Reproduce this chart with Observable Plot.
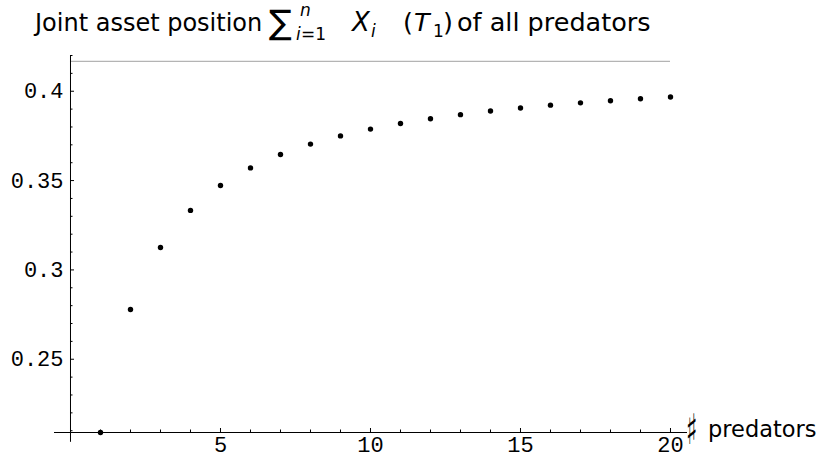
<!DOCTYPE html>
<html>
<head>
<meta charset="utf-8">
<script src="https://cdn.jsdelivr.net/npm/d3@7"></script>
<script src="https://cdn.jsdelivr.net/npm/@observablehq/plot@0.6"></script>
<style>
  html, body { margin: 0; padding: 0; background: white; }
  svg { display: block; }
</style>
</head>
<body>
<div id="chart"></div>
<script>
// ---- data ----
const predators = [1, 2, 3, 4, 5, 6, 7, 8, 9, 10, 11, 12, 13, 14, 15, 16, 17, 18, 19, 20];
const jointAsset = [0.209, 0.2778, 0.3125, 0.3333, 0.3472, 0.3571, 0.3646, 0.3704, 0.3750, 0.3788,
                    0.3819, 0.3846, 0.3869, 0.3889, 0.3906, 0.3922, 0.3935, 0.3947, 0.3958, 0.3968];
const limitValue = 0.4167;
const xMajorTicks = [5, 10, 15, 20];
const xMinorTicks = [1, 2, 3, 4, 6, 7, 8, 9, 11, 12, 13, 14, 16, 17, 18, 19];
const yMajorTicks = [0.25, 0.3, 0.35, 0.4];
const yMajorLabels = ["0.25", "0.3", "0.35", "0.4"];
const yMinorTicks = [0.21, 0.22, 0.23, 0.24, 0.26, 0.27, 0.28, 0.29, 0.31, 0.32, 0.33, 0.34,
                     0.36, 0.37, 0.38, 0.39, 0.41, 0.42];
const xOrigin = 0;
const yOrigin = 0.209;

const data = predators.map((n, i) => ({n, v: jointAsset[i]}));
const monoFont = "Liberation Mono";

const svg = Plot.plot({
  width: 820,
  height: 457,
  marginLeft: 54,
  marginRight: 133,
  marginTop: 55,
  marginBottom: 25,
  style: {background: "white", color: "black"},
  x: {domain: [-0.533, 20.567]},
  y: {domain: [yOrigin, 0.42]},
  marks: [
    // asymptote
    Plot.ruleY([limitValue], {x1: 0, x2: 20, stroke: "#b4b4b4", strokeWidth: 1.3}),
    // axes lines through origin
    Plot.ruleY([yOrigin], {stroke: "black", strokeWidth: 1}),
    Plot.ruleX([xOrigin], {y1: 0.42, y2: yOrigin - 0.0055, stroke: "black", strokeWidth: 1}),
    // x ticks (pointing up)
    Plot.axisX({ticks: xMinorTicks, tickSize: 2.5, dy: -2.5, tickFormat: () => "", label: null}),
    Plot.axisX({ticks: xMajorTicks, tickSize: 4, dy: -4, tickFormat: () => "", label: null}),
    Plot.axisX({ticks: xMajorTicks, tickSize: 0, tickPadding: 4, label: null,
                fontSize: 22, fontFamily: monoFont, tickFormat: d => String(d)}),
    // y ticks (pointing right from the y axis)
    Plot.axisY({ticks: yMinorTicks, tickSize: 2.5, dx: 18.5, tickFormat: () => "", label: null}),
    Plot.axisY({ticks: yMajorTicks, tickSize: 4, dx: 20, tickFormat: () => "", label: null}),
    Plot.axisY({ticks: yMajorTicks, tickSize: 0, tickPadding: 0, dx: 9, label: null,
                fontSize: 22, fontFamily: monoFont,
                tickFormat: d => yMajorLabels[yMajorTicks.indexOf(d)]}),
    // points
    Plot.dot(data, {x: "n", y: "v", r: 2.7, fill: "black", stroke: null})
  ]
});

document.getElementById("chart").appendChild(svg);

// ---- title and axis label as real text ----
const g = d3.select(svg).append("g")
  .attr("font-family", "DejaVu Sans")
  .attr("text-anchor", "start")
  .attr("fill", "black");
function put(txt, x, y, size, italic) {
  return g.append("text").attr("x", x).attr("y", y).attr("font-size", size)
    .attr("text-anchor", "start").attr("fill", "black")
    .attr("font-style", italic ? "italic" : "normal").text(txt);
}
put("Joint asset position", 35, 31, 24);
put("\u2211", 269, 34, 34);
put("n", 300, 16, 17, true);
put("i", 296, 40, 17, true);
put("=1", 301, 40, 17);
put("X", 352, 31, 26, true);
put("i", 371, 37, 17, true);
put("(", 403, 31, 25.5);
put("T", 414, 31, 25.5, true);
put("1", 433, 37, 17);
put(")", 443, 31, 25.5);
put("of all predators", 457, 31, 25.5);

g.append("text").attr("transform", "translate(686,444) scale(1,1.75)")
  .attr("font-size", 24).attr("text-anchor", "start").attr("fill", "black").text("\u266F");
put("predators", 708, 437, 22.5);
</script>
</body>
</html>
